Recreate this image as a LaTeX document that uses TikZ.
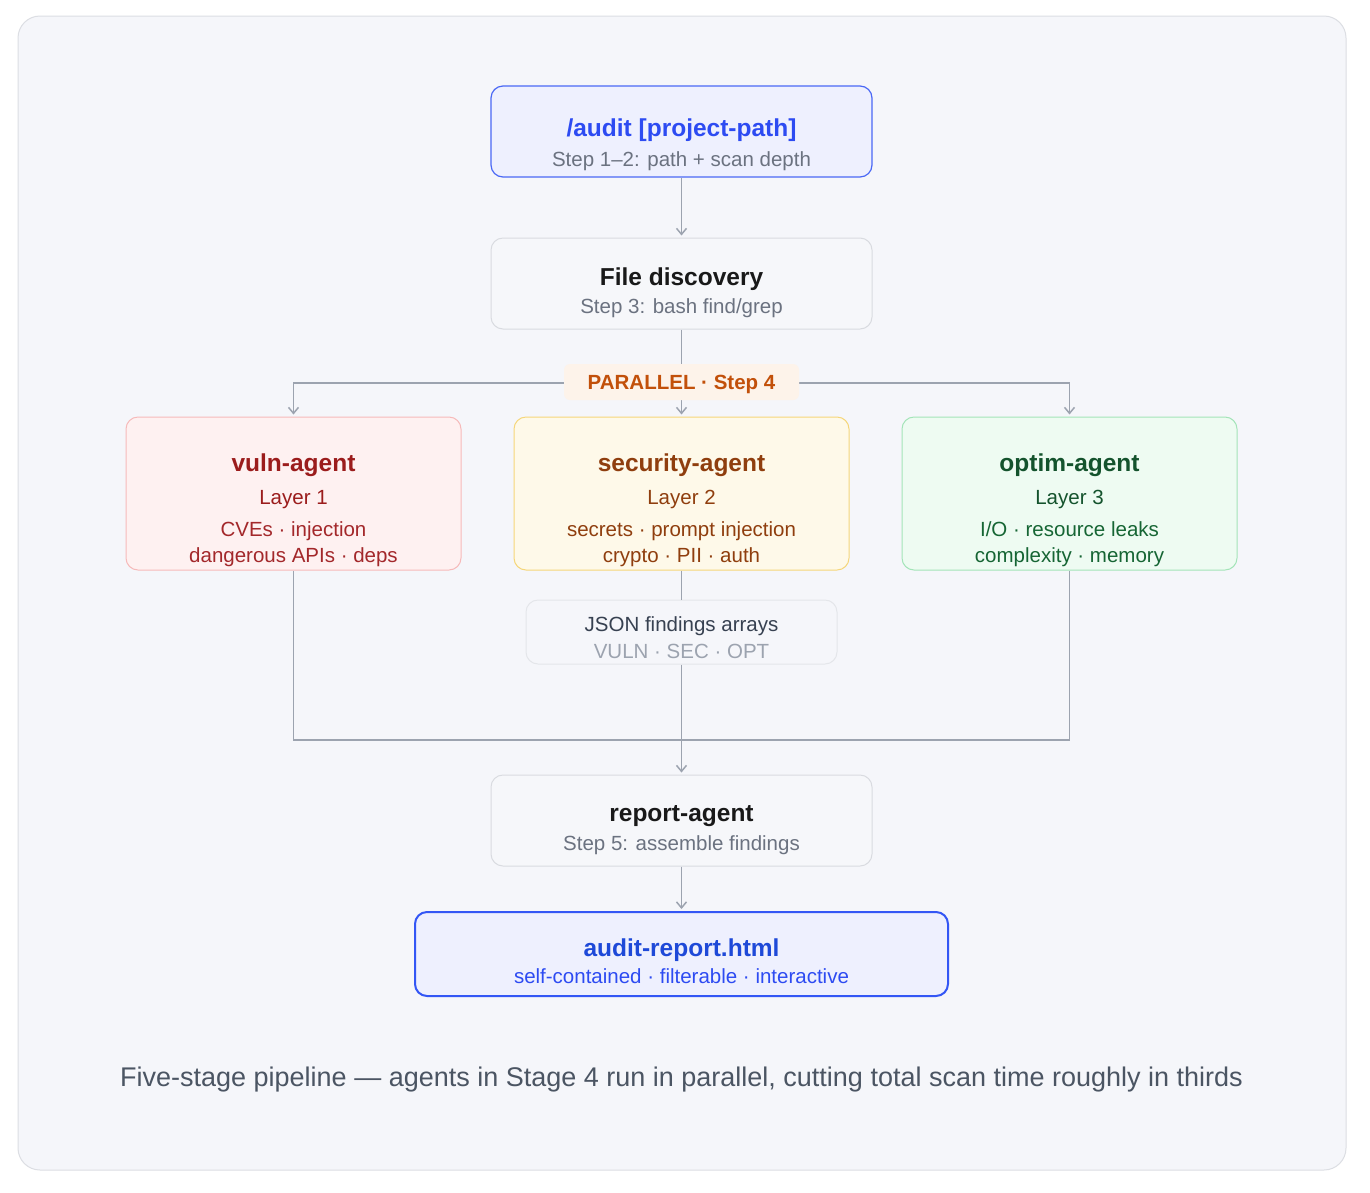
\documentclass[tikz,border=0pt]{standalone}
\usepackage{fontspec}
\setmainfont{Liberation Sans}
\usetikzlibrary{arrows.meta,positioning}
\definecolor{bgfill}{HTML}{F5F6FA}
\definecolor{bgline}{HTML}{DCDEE3}
\definecolor{wirecol}{HTML}{9CA3AF}
\definecolor{greytxt}{HTML}{6B7280}
\definecolor{plainline}{HTML}{D9DBE0}
\definecolor{plainfill}{HTML}{F6F7FA}
\definecolor{auditfill}{HTML}{EEF0FE}
\definecolor{auditline}{HTML}{4A68F5}
\definecolor{auditblue}{HTML}{2D4BF2}
\definecolor{htmlline}{HTML}{3356F5}
\definecolor{htmlblue}{HTML}{1E49D8}
\definecolor{parfill}{HTML}{FDF3EA}
\definecolor{partxt}{HTML}{C2500A}
\definecolor{vulnfill}{HTML}{FEF1F1}
\definecolor{vulnline}{HTML}{F6BABA}
\definecolor{vulndark}{HTML}{9B1C1C}
\definecolor{vulntxt}{HTML}{A3282B}
\definecolor{secfill}{HTML}{FEF9E9}
\definecolor{secline}{HTML}{F5D67A}
\definecolor{sectxt}{HTML}{8F3E0E}
\definecolor{optfill}{HTML}{EEFBF2}
\definecolor{optline}{HTML}{A3E4B8}
\definecolor{optdark}{HTML}{14532D}
\definecolor{opttxt}{HTML}{166534}
\definecolor{jsonline}{HTML}{E4E6EA}
\definecolor{jsontxt}{HTML}{374151}
\definecolor{captxt}{HTML}{4B5563}
\tikzset{
  box/.style={draw, rounded corners=12pt, line width=1pt, inner sep=0pt},
  stagebox/.style={box, draw=plainline, fill=plainfill, minimum width=381pt, minimum height=91pt},
  agentbox/.style={box, minimum width=335pt, minimum height=153pt},
  wire/.style={draw=wirecol, line width=1.5pt},
  arr/.style={wire, -{Straight Barb[length=6pt,width=10pt]}, shorten >=2pt},
  ttl/.style={anchor=base, inner sep=0pt, font=\fontsize{24.5}{28}\selectfont\bfseries},
  subtxt/.style={anchor=base, inner sep=0pt, font=\fontsize{20.5}{24}\selectfont}
}
\begin{document}
\begin{tikzpicture}[x=1pt,y=-1pt]
  \fill[white] (0,0) rectangle (1370,1192);
  \useasboundingbox (0,0) rectangle (1370,1192);
  \draw[rounded corners=22pt, fill=bgfill, draw=bgline, line width=1pt] (18,16) rectangle (1346,1170);

  \node[box, draw=auditline, fill=auditfill, line width=1.2pt, minimum width=381pt, minimum height=91pt] (audit) at (681.5,131.5) {};
  \node[ttl, text=auditblue] (audittitle) at (681.5,136.5) {/audit [project-path]};
  \node[subtxt, text=greytxt] (auditsub) at (681.5,166) {Step 1–2: path + scan depth};

  \node[stagebox] (files) at (681.5,283.5) {};
  \node[ttl, text=black!90] (filestitle) at (681.5,285) {File discovery};
  \node[subtxt, text=greytxt] (filessub) at (681.5,313) {Step 3: bash find/grep};

  \node[agentbox, draw=vulnline, fill=vulnfill] (vuln) at (293.5,493.5) {};
  \node[ttl, text=vulndark] (vulntitle) at (293.5,471.5) {vuln-agent};
  \node[subtxt, text=vulndark] (vulnlayer) at (293.5,504) {Layer 1};
  \node[subtxt, text=vulntxt] (vulna) at (293.5,536.5) {CVEs · injection};
  \node[subtxt, text=vulntxt] (vulnb) at (293.5,562) {dangerous APIs · deps};

  \node[agentbox, draw=secline, fill=secfill] (security) at (681.5,493.5) {};
  \node[ttl, text=sectxt] (sectitle) at (681.5,471.5) {security-agent};
  \node[subtxt, text=sectxt] (seclayer) at (681.5,504) {Layer 2};
  \node[subtxt, text=sectxt] (seca) at (681.5,536.5) {secrets · prompt injection};
  \node[subtxt, text=sectxt] (secb) at (681.5,562) {crypto · PII · auth};

  \node[agentbox, draw=optline, fill=optfill] (optim) at (1069.5,493.5) {};
  \node[ttl, text=optdark] (opttitle) at (1069.5,471.5) {optim-agent};
  \node[subtxt, text=optdark] (optlayer) at (1069.5,504) {Layer 3};
  \node[subtxt, text=opttxt] (opta) at (1069.5,536.5) {I/O · resource leaks};
  \node[subtxt, text=opttxt] (optb) at (1069.5,562) {complexity · memory};

  \node[box, draw=jsonline, fill=bgfill, minimum width=311pt, minimum height=64pt] (json) at (681.5,632) {};
  \node[subtxt, text=jsontxt] (jsontitle) at (681.5,631.5) {JSON findings arrays};
  \node[subtxt, text=wirecol] (jsonsub) at (681.5,658) {VULN · SEC · OPT};

  \node[stagebox] (report) at (681.5,820.5) {};
  \node[ttl, text=black!90] (reporttitle) at (681.5,821.5) {report-agent};
  \node[subtxt, text=greytxt] (reportsub) at (681.5,850.5) {Step 5: assemble findings};

  \node[box, draw=htmlline, fill=auditfill, line width=2pt, minimum width=533pt, minimum height=84pt] (html) at (681.5,954) {};
  \node[ttl, text=htmlblue] (htmltitle) at (681.5,956) {audit-report.html};
  \node[subtxt, text=auditblue] (htmlsub) at (681.5,983) {self-contained · filterable · interactive};

  \coordinate (split) at (681.5,383);
  \coordinate (merge) at (681.5,740);

  \draw[arr] (audit) -- (files);
  \draw[arr] (files) -- (security);
  \foreach \agent in {vuln,optim}
    \draw[arr] (split) -| (\agent);
  \draw[wire] (vuln) |- (merge) -| (optim);
  \draw[wire] (security) -- (json);
  \draw[arr] (json) -- (report);
  \draw[arr] (report) -- (html);

  \node[fill=parfill, rounded corners=6pt, minimum width=235pt, minimum height=36pt, inner sep=0pt, text depth=0pt,
        text=partxt, font=\fontsize{20.5}{24}\selectfont\bfseries] (parallel) at (681.5,382) {PARALLEL · Step 4};

  \node[anchor=base, inner sep=0pt, text=captxt, font=\fontsize{27}{32}\selectfont] (caption) at (681.5,1086)
    {Five-stage pipeline — agents in Stage 4 run in parallel, cutting total scan time roughly in thirds};
\end{tikzpicture}
\end{document}
